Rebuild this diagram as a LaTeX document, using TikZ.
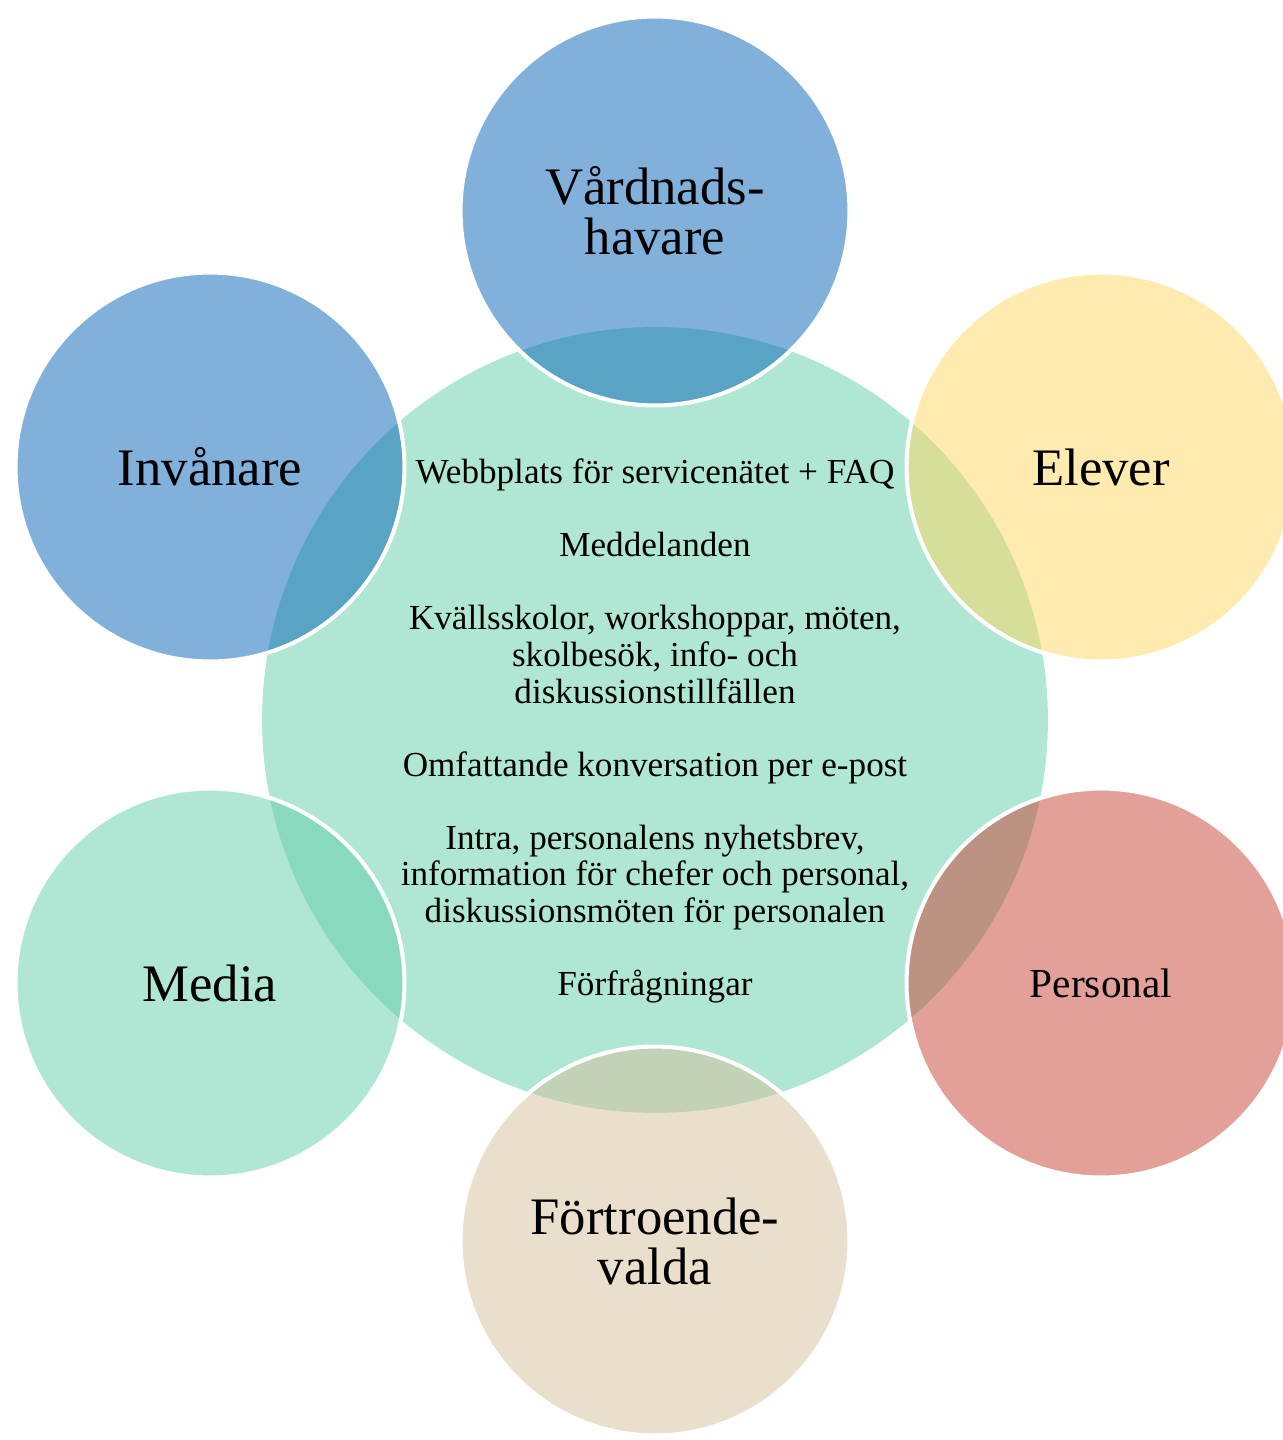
\documentclass[tikz,border=0pt]{standalone}
\usepackage{fontspec}
\setmainfont{Liberation Serif}
\definecolor{hubfill}{RGB}{176,230,212}
\definecolor{bluefill}{RGB}{4,98,183}
\definecolor{yellowfill}{RGB}{255,216,95}
\definecolor{redfill}{RGB}{200,66,50}
\definecolor{beigefill}{RGB}{213,192,156}
\definecolor{greenfill}{RGB}{97,206,170}
\begin{document}
\begin{tikzpicture}[x=0.02cm,y=-0.02cm,
    group/.style={circle,draw=white,line width=2.3pt,fill opacity=0.5,text opacity=1,
      minimum size=7.78cm,inner sep=0pt,align=center,font=\fontsize{30}{28.5}\selectfont},
    smalltext/.style={font=\fontsize{20}{20.8}\selectfont}]
  \useasboundingbox (0,0) rectangle (1283,1440);
  \node[circle,fill=hubfill,minimum size=15.72cm,inner sep=0pt] (hub) at (655,720) {};
  \node[group,fill=bluefill] (guardians) at (655,211) {Vårdnads-\\havare};
  \node[group,fill=bluefill] (residents) at (210,467) {Invånare};
  \node[group,fill=yellowfill] (pupils) at (1101,467) {Elever};
  \node[group,fill=greenfill] (media) at (210,983) {Media};
  \node[group,fill=redfill,font=\fontsize{23.5}{28}\selectfont] (staff) at (1101,983) {Personal};
  \node[group,fill=beigefill] (elected) at (655,1241) {Förtroende-\\valda};
  \node[align=center,smalltext] (channels) at (655,731) {Webbplats för servicenätet + FAQ\\[20.8pt]
    Meddelanden\\[20.8pt]
    Kvällsskolor, workshoppar, möten,\\
    skolbesök, info- och\\
    diskussionstillfällen\\[20.8pt]
    Omfattande konversation per e-post\\[20.8pt]
    Intra, personalens nyhetsbrev,\\
    information för chefer och personal,\\
    diskussionsmöten för personalen\\[20.8pt]
    Förfrågningar};
\end{tikzpicture}
\end{document}
